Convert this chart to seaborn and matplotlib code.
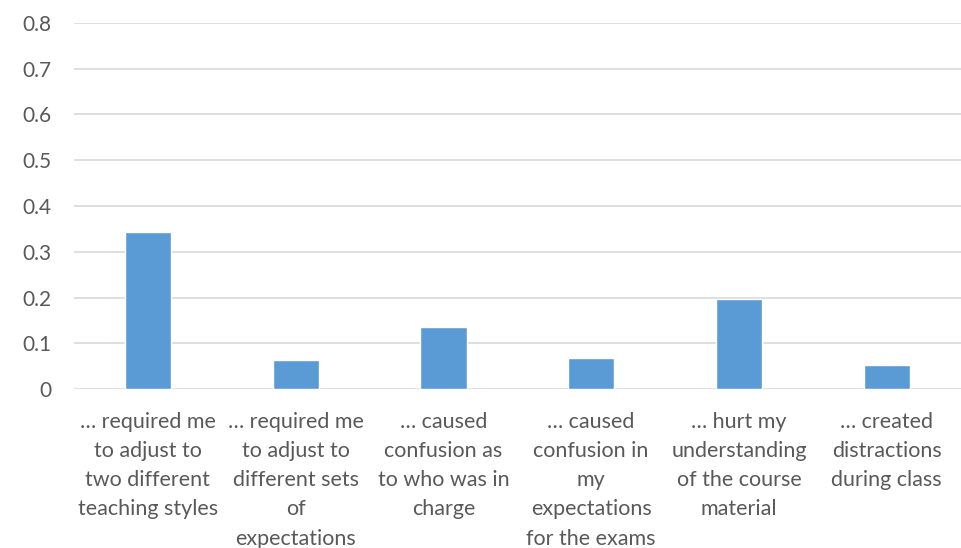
import matplotlib.pyplot as plt
import pandas as pd
import seaborn as sns

# 응답 항목 (x축 라벨) 과 비율
labels = [
    "… required me\nto adjust to\ntwo different\nteaching styles",
    "… required me\nto adjust to\ndifferent sets\nof\nexpectations",
    "… caused\nconfusion as\nto who was in\ncharge",
    "… caused\nconfusion in\nmy\nexpectations\nfor the exams",
    "… hurt my\nunderstanding\nof the course\nmaterial",
    "… created\ndistractions\nduring class",
]
values = [0.343, 0.063, 0.135, 0.068, 0.198, 0.052]
y_ticks = [0, 0.1, 0.2, 0.3, 0.4, 0.5, 0.6, 0.7, 0.8]

df = pd.DataFrame({"label": labels, "value": values})

sns.set_theme(style="white")
plt.rcParams["font.family"] = ["Lato", "DejaVu Sans"]

fig = plt.figure(figsize=(9.61, 5.48), dpi=100)
ax = fig.add_axes([0.077, 0.2896, 0.9225, 0.669])

sns.barplot(data=df, x="label", y="value", color="#5b9bd5", saturation=1,
            width=0.313, ax=ax)

ax.set_ylim(0, 0.8)
ax.set_yticks(y_ticks)
ax.set_yticklabels([f"{t:g}" for t in y_ticks])
ax.set_xlim(-0.5, len(labels) - 0.5)
ax.yaxis.grid(True, color="#d9d9d9", linewidth=1.2)
ax.set_axisbelow(True)
sns.despine(ax=ax, left=True, top=True, right=True, bottom=True)
ax.set(xlabel="", ylabel="")
ax.tick_params(axis="x", length=0, pad=16, labelsize=15.5, labelcolor="#595959")
ax.tick_params(axis="y", length=0, pad=16, labelsize=15, labelcolor="#595959")
for t in ax.get_xticklabels():
    t.set_linespacing(1.58)

fig.savefig("out.png", dpi=100)
